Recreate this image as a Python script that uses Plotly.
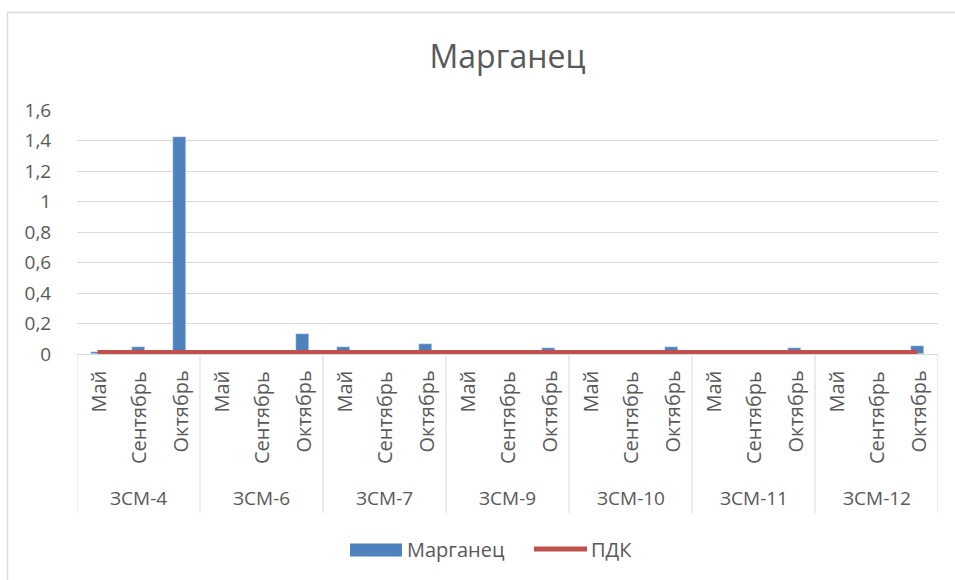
import plotly.graph_objects as go

# Monitoring wells and sampling months
groups = ["ЗСМ-4", "ЗСМ-6", "ЗСМ-7", "ЗСМ-9", "ЗСМ-10", "ЗСМ-11", "ЗСМ-12"]
months = ["Май", "Сентябрь", "Октябрь"]

# Manganese concentration, mg/l (order: well by well, month by month)
manganese = [0.01, 0.045, 1.42,
             0, 0, 0.13,
             0.045, 0, 0.065,
             0, 0, 0.04,
             0, 0, 0.045,
             0, 0, 0.04,
             0, 0, 0.05]
pdk_value = 0.01

y_ticks = [0, 0.2, 0.4, 0.6, 0.8, 1, 1.2, 1.4, 1.6]
y_tick_text = ["0", "0,2", "0,4", "0,6", "0,8", "1", "1,2", "1,4", "1,6"]

W, H = 955, 580
ML, MR, MT, MB = 77, 17, 110, 226
PW, PH = W - ML - MR, H - MT - MB

FONT = "Open Sans"
TXT = "#595959"
GRID = "#D9D9D9"
BLUE = "#4F81BD"
RED = "#C0504D"
FS = 19
FS_LEG = 20


def px_x(px):
    return (px - ML) / PW


def px_y(py):
    return (H - MB - py) / PH


n = len(groups) * len(months)
xs = list(range(n))

fig = go.Figure()
fig.add_trace(go.Bar(x=xs, y=manganese, width=0.33, marker_color=BLUE,
                     name="Марганец", showlegend=False))
fig.add_trace(go.Scatter(x=xs, y=[pdk_value] * n, mode="lines",
                         line=dict(color=RED, width=5), name="ПДК",
                         showlegend=False))

shapes = []
annotations = []

# category dividers
for g in range(len(groups) + 1):
    shapes.append(dict(type="line", xref="x", yref="paper",
                       x0=3 * g - 0.5, x1=3 * g - 0.5,
                       y0=0, y1=px_y(513), line=dict(color=GRID, width=1)))

# month labels (rotated) and well labels
for g, name in enumerate(groups):
    for m, mon in enumerate(months):
        annotations.append(dict(x=3 * g + m, y=px_y(369), xref="x", yref="paper",
                                text=mon, textangle=-90, showarrow=False,
                                xanchor="center", yanchor="top",
                                font=dict(family=FONT, size=FS_LEG, color=TXT)))
    annotations.append(dict(x=3 * g + 1, y=px_y(498), xref="x", yref="paper",
                            text=name, showarrow=False,
                            xanchor="center", yanchor="middle",
                            font=dict(family=FONT, size=FS, color=TXT)))

# legend
shapes.append(dict(type="rect", xref="paper", yref="paper",
                   x0=px_x(350), x1=px_x(402), y0=px_y(556.5), y1=px_y(543.5),
                   fillcolor=BLUE, line=dict(width=0)))
annotations.append(dict(x=px_x(405), y=px_y(549), xref="paper", yref="paper",
                        text="Марганец", showarrow=False, xanchor="left",
                        yanchor="middle",
                        font=dict(family=FONT, size=FS_LEG, color=TXT)))
shapes.append(dict(type="line", xref="paper", yref="paper",
                   x0=px_x(534), x1=px_x(587), y0=px_y(549), y1=px_y(549),
                   line=dict(color=RED, width=5)))
annotations.append(dict(x=px_x(589), y=px_y(549), xref="paper", yref="paper",
                        text="ПДК", showarrow=False, xanchor="left",
                        yanchor="middle",
                        font=dict(family=FONT, size=FS_LEG, color=TXT)))

# chart frame (left and top edges)
shapes.append(dict(type="line", xref="paper", yref="paper",
                   x0=px_x(7.5), x1=px_x(7.5), y0=px_y(12.5), y1=px_y(600),
                   line=dict(color=GRID, width=1.5)))
shapes.append(dict(type="line", xref="paper", yref="paper",
                   x0=px_x(7.5), x1=px_x(970), y0=px_y(12.5), y1=px_y(12.5),
                   line=dict(color=GRID, width=1.5)))

fig.update_layout(
    width=W, height=H,
    margin=dict(l=ML, r=MR, t=MT, b=MB),
    paper_bgcolor="white", plot_bgcolor="white",
    title=dict(text="Марганец", x=0.5, xref="paper", xanchor="center",
               y=1 - 57 / H, yanchor="middle",
               font=dict(family=FONT, size=32, color=TXT)),
    xaxis=dict(range=[-0.5, n - 0.5], showticklabels=False, showgrid=False,
               zeroline=False, showline=False, ticks=""),
    yaxis=dict(range=[0, 1.6], tickvals=y_ticks, ticktext=y_tick_text,
               showgrid=True, gridcolor=GRID, gridwidth=1, zeroline=True,
               zerolinecolor=GRID, zerolinewidth=1, showline=False,
               ticks="outside", ticklen=21, tickcolor="rgba(0,0,0,0)",
               tickfont=dict(family=FONT, size=FS, color=TXT)),
    shapes=shapes,
    annotations=annotations,
    bargap=0,
    hovermode=False,
)

fig.write_html("out.html")
